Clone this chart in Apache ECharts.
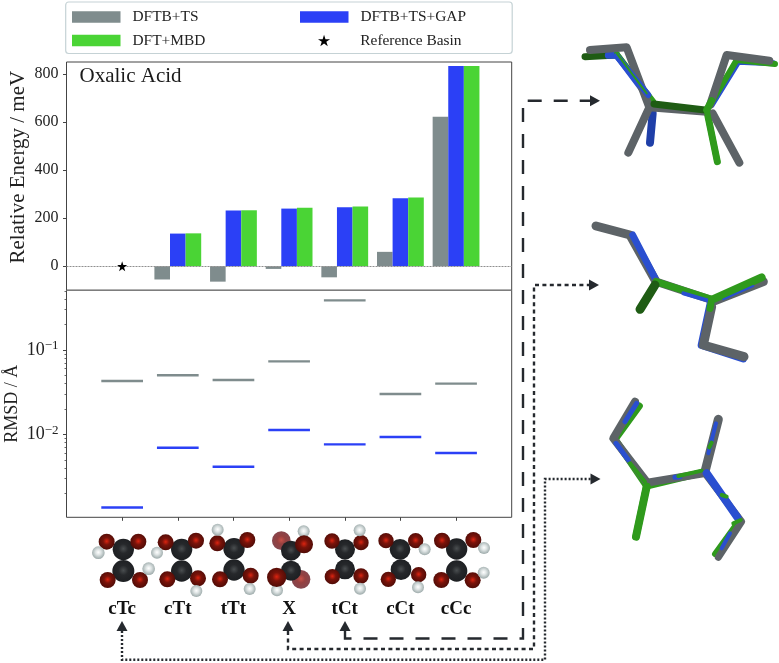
<!DOCTYPE html>
<html><head><meta charset="utf-8">
<style>html,body{margin:0;padding:0;background:#fff}#c{width:779px;height:663px}</style>
<script src="https://cdn.jsdelivr.net/npm/echarts@6/dist/echarts.min.js"></script>
</head><body><div id="c"></div>
<script>
const categories = ['cTc','cTt','tTt','X','tCt','cCt','cCc'];
const energyDFTBTS = [null,-55,-64,-11,-46,60,622];
const energyGAP = [null,136,232,240,246,283,833];
const energyMBD = [null,137,233,243,249,286,833];
const rmsdDFTBTS = [0.0429,0.0501,0.0441,0.0734,0.3875,0.0301,0.0399];
const rmsdGAP = [0.00136,0.00695,0.00414,0.01126,0.00761,0.0093,0.00601];
const energyTicks = [0,200,400,600,800];
const rmsdMajorTicks = [0.01,0.1];
const rmsdMinorTicks = [0.002,0.003,0.004,0.005,0.006,0.007,0.008,0.009,0.02,0.03,0.04,0.05,0.06,0.07,0.08,0.09,0.2,0.3,0.4,0.5];

const SERIF = '"Liberation Serif", serif';
const GRAY='#7f8c8d', BLUE='#2b40f6', GREEN='#4ad435', INK='#25292e';
const STAR='path://M50 0L61.17 34.63L97.55 34.55L68.07 55.87L79.39 90.45L50 69L20.61 90.45L31.93 55.87L2.45 34.55L38.83 34.63Z';
const idx = categories.map((_,i)=>i);
const pair = a => a.map((v,i)=>[i,v]);

function legend(name,left,top,icon,pad){
  return {data:[{name,icon}],left,top,padding:0,itemWidth:48.5,itemHeight:11.5,selectedMode:false,
    textStyle:{fontFamily:SERIF,fontSize:15.4,color:'#222',padding:[0,0,0,pad]}};
}

const atomStyle={C:['#4a4e50','#26282b','#1c1e21'],O:['#dc2410','#7a130a','#4c0b06'],H:['#ffffff','#dde3e3','#98a6a6'],F:['rgba(190,50,40,.85)','rgba(130,30,30,.85)','rgba(100,25,35,.8)']};
const molecules=[
 [['C',160,118,32],['C',160,183,33],['O',110,95,24],['O',205,95,24],['O',113,210,24],['O',210,210,24],['H',85,128,19],['H',236,176,19]],
 [['C',335,118,32],['C',335,183,32],['O',287,97,24],['O',378,92,24],['O',292,208,24],['O',384,205,24],['H',261,128,18],['H',379,243,18]],
 [['C',492,116,32],['C',492,180,32],['O',442,100,24],['O',532,90,24],['O',450,208,24],['O',542,197,24],['H',443,59,18],['H',539,237,18]],
 [['F',634,92,28],['F',693,208,28],['C',663,122,30],['C',663,182,30],['H',701,64,18],['H',621,241,18],['O',702,103,27],['O',620,202,29]],
 [['C',825,118,30],['C',825,178,30],['O',786,93,23],['O',873,98,23],['O',787,200,23],['O',873,198,23],['H',869,61,18],['H',870,236,18]],
 [['C',990,118,31],['C',993,179,31],['O',948,92,23],['O',1037,92,23],['O',955,208,23],['O',1046,194,23],['H',1064,118,18],['H',1044,232,18]],
 [['C',1160,117,32],['C',1160,183,32],['O',1116,92,24],['O',1210,90,24],['O',1114,210,24],['O',1208,211,24],['H',1242,114,18],['H',1241,188,18]]
];
const graphics=[];
molecules.flat().forEach(([t,zx,zy,zr])=>{
  const c=atomStyle[t];
  graphics.push({type:'circle',silent:true,z:5,shape:{cx:70+zx/3,cy:510+zy/3,r:zr/3},
    style:{fill:new echarts.graphic.RadialGradient(.5,.47,.55,[{offset:0,color:c[0]},{offset:.4,color:c[1]},{offset:1,color:c[2]}])}});
});

/* overlaid structures: [crop x, crop y, layers of [color,width,points]] */
const DG='#1f5c14',G2='#2f9a1c',B2='#2a4fd0',GR='#5d6367';
const structures=[
 [510,30,[
  [DG,7,[[225,80],[320,75]]],[B2,7,[[295,76],[320,75],[425,215]]],[G2,5,[[320,70],[432,215]]],
  ['#1f3fa8',8,[[428,250],[420,338]]],[G2,7,[[590,240],[622,395]]],
  [B2,6,[[605,225],[685,95],[790,100]]],[G2,6,[[600,225],[680,90],[795,102]]],
  [GR,8,[[240,60],[350,52],[418,232],[590,245]]],[GR,8,[[418,232],[355,368]]],
  [GR,8,[[600,225],[650,75],[778,92]]],[GR,8,[[608,250],[688,398]]],
  [DG,7,[[432,222],[585,240]]],[G2,7,[[590,240],[605,212]]],[G2,6,[[590,240],[622,395]]],[B2,6,[[320,78],[415,195]]],[G2,2,[[320,70],[410,190]]]
 ]],
 [520,200,[
  [GR,9,[[228,78],[330,105],[408,245]]],[B2,7,[[338,105],[408,240]]],
  [GR,8,[[408,245],[575,300]]],[G2,7,[[408,245],[575,298]]],[B2,4,[[490,280],[575,305]]],
  [DG,9,[[405,255],[360,328]]],
  [GR,9,[[578,305],[730,245]]],[G2,8,[[578,298],[725,232]]],[B2,2,[[610,298],[700,258]]],
  [B2,8,[[572,310],[545,435],[670,475]]],[GR,9,[[575,320],[550,435],[672,470]]],[G2,7,[[575,300],[570,325]]]
 ]],
 [530,380,[
  [G2,7,[[328,78],[255,178],[350,318],[525,276]]],[G2,7,[[350,318],[318,470]]],[G2,6,[[625,425],[555,522]]],
  [GR,8,[[315,65],[250,175],[352,308],[520,280]]],[GR,9,[[565,118],[525,275]]],[GR,7,[[525,280],[635,425],[565,532]]],
  [G2,8,[[350,320],[318,470]]],
  [B2,5,[[320,70],[285,125]]],[B2,5,[[258,190],[295,240]]],[B2,5,[[435,292],[450,290]]],[G2,4,[[445,288],[515,272]]],[G2,4,[[300,250],[345,305]]],
  [B2,8,[[530,280],[622,412]]],[G2,4,[[575,345],[590,350]]],[B2,4,[[558,130],[535,220]]],[G2,4,[[545,188],[538,202]]],[G2,4,[[610,430],[632,420]]],[B2,4,[[600,460],[575,505]]]
 ]]
];
structures.forEach(([ox,oy,layers])=>layers.forEach(([color,w,pts])=>{
  graphics.push({type:'polyline',silent:true,z:5,shape:{points:pts.map(p=>[ox+p[0]/3,oy+p[1]/3])},
    style:{fill:null,stroke:color,lineWidth:w,lineCap:'round',lineJoin:'round'}});
}));

/* connector arrows */
const connectors=[
 {pts:[[345,631],[345,638.5],[523,638.5],[523,100.7],[591,100.7]],dash:[14,12],head:[600,100.7,1,0],tail:[345,621,0,-1]},
 {pts:[[288,631],[288,649],[534,649],[534,285],[590,285]],dash:[4,3.4],head:[599,285,1,0],tail:[288,621,0,-1]},
 {pts:[[122,631],[122,659.7],[545,659.7],[545,479],[591,479]],dash:[2,2],head:[600.5,479,1,0],tail:[122,621,0,-1]}
];
function tri(x,y,dx,dy){
  const L=10,W=5.5,bx=x-dx*L,by=y-dy*L;
  return {type:'polygon',silent:true,z:6,shape:{points:[[x,y],[bx-dy*W,by+dx*W],[bx+dy*W,by-dx*W]]},style:{fill:INK}};
}
connectors.forEach(c=>{
  graphics.push({type:'polyline',silent:true,z:6,shape:{points:c.pts},style:{fill:null,stroke:INK,lineWidth:2.4,lineDash:c.dash}});
  graphics.push(tri(...c.head),tri(...c.tail));
});
/* legend frame, panel title, inner spine */
graphics.push({type:'rect',silent:true,z:0,shape:{x:65.7,y:2,width:446.5,height:51.5,r:3},style:{fill:'#fff',stroke:'#c5d2d5',lineWidth:1.2}});
graphics.push({type:'text',silent:true,z:6,x:79.5,y:65.5,style:{text:'Oxalic Acid',font:'21px '+SERIF,fill:'#1a1a1a'}});
graphics.push({type:'line',silent:true,z:6,shape:{x1:66.5,y1:290.3,x2:511.7,y2:290.3},style:{stroke:'#8a8a8a',lineWidth:1}});

const chart=echarts.init(document.getElementById('c'),null,{renderer:'canvas'});
const xBase={type:'value',min:-1,max:7,splitLine:{show:false},axisLine:{show:false,onZero:false}};
const yLine={show:false,onZero:false};
const yName={fontFamily:SERIF,color:'#222'};
const yLabel={fontFamily:SERIF,fontSize:16,color:'#222',margin:8};
const sup={fontFamily:SERIF,fontSize:13,color:'#222',verticalAlign:'bottom',padding:[0,0,8,0]};
const big={fontFamily:SERIF,fontSize:18,color:'#222'};
chart.setOption({
  animation:false,backgroundColor:'#fff',
  legend:[legend('DFTB+TS',72,9.5,'rect',7),legend('DFTB+TS+GAP',300,9.5,'rect',7),legend('DFT+MBD',72,33,'rect',7),legend('Reference Basin',318,33,STAR,7)],
  grid:[
   {left:66.5,top:62,width:445.2,height:228.3,outerBoundsMode:'none',containLabel:false,show:true,borderColor:'#444',borderWidth:1,backgroundColor:'transparent'},
   {left:66.5,top:290.3,width:445.2,height:227,outerBoundsMode:'none',containLabel:false,show:true,borderColor:'#444',borderWidth:1,backgroundColor:'transparent'}
  ],
  xAxis:[
   {...xBase,gridIndex:0,axisTick:{show:false},axisLabel:{show:false}},
   {...xBase,gridIndex:1,position:'bottom',
    axisTick:{show:true,length:3.5,lineStyle:{color:'#444'},customValues:idx},
    axisLabel:{show:true,customValues:idx,margin:82,fontFamily:SERIF,fontWeight:'bold',fontSize:19,color:'#111',formatter:v=>categories[v]||''}}
  ],
  yAxis:[
   {type:'value',gridIndex:0,position:'left',min:-100,max:850,splitLine:{show:false},axisLine:yLine,
    axisTick:{show:true,length:3.5,lineStyle:{color:'#444'},customValues:energyTicks},
    axisLabel:{...yLabel,customValues:energyTicks},
    name:'Relative Energy / meV',nameLocation:'middle',nameMoveOverlap:false,nameGap:38,nameRotate:90,nameTextStyle:{...yName,fontSize:21,padding:[0,0,0,18]}},
   {type:'log',gridIndex:1,position:'left',min:0.00104,max:0.51,splitLine:{show:false},axisLine:yLine,
    axisTick:{show:true,length:3.5,lineStyle:{color:'#444'},customValues:rmsdMajorTicks},
    axisLabel:{...yLabel,customValues:rmsdMajorTicks,
      formatter:v=>'{b|10}{s|\u2212'+Math.round(-Math.log10(v))+'}',rich:{s:sup,b:big}},
    name:'RMSD / Å',nameLocation:'middle',nameMoveOverlap:false,nameGap:45,nameRotate:90,nameTextStyle:{...yName,fontSize:18}},
   {type:'log',gridIndex:1,position:'left',min:0.00104,max:0.51,splitLine:{show:false},axisLine:yLine,
    axisTick:{show:true,length:2,lineStyle:{color:'#444',width:.8},customValues:rmsdMinorTicks},
    axisLabel:{show:false}}
  ],
  series:[
   {name:'DFTB+TS',type:'bar',xAxisIndex:0,yAxisIndex:0,data:pair(energyDFTBTS),barWidth:15.6,barGap:0,itemStyle:{color:GRAY}},
   {name:'DFTB+TS+GAP',type:'bar',xAxisIndex:0,yAxisIndex:0,data:pair(energyGAP),barWidth:15.6,barGap:0,itemStyle:{color:BLUE}},
   {name:'DFT+MBD',type:'bar',xAxisIndex:0,yAxisIndex:0,data:pair(energyMBD),barWidth:15.6,barGap:0,itemStyle:{color:GREEN}},
   {name:'Reference Basin',type:'scatter',xAxisIndex:0,yAxisIndex:0,data:[[0,0]],symbol:STAR,symbolSize:10,z:5,itemStyle:{color:'#000',opacity:1},
    markLine:{silent:true,symbol:'none',animation:false,label:{show:false},data:[{yAxis:0}],lineStyle:{color:'#8f8f8f',type:[2,1],width:1}}},
   {name:'DFTB+TS',type:'scatter',xAxisIndex:1,yAxisIndex:1,data:pair(rmsdDFTBTS),symbol:'rect',symbolSize:[41.7,2.4],itemStyle:{color:GRAY,opacity:1}},
   {name:'DFTB+TS+GAP',type:'scatter',xAxisIndex:1,yAxisIndex:1,data:pair(rmsdGAP),symbol:'rect',symbolSize:[41.7,2.4],itemStyle:{color:BLUE,opacity:1}}
  ],
  graphic:graphics
});
</script></body></html>
